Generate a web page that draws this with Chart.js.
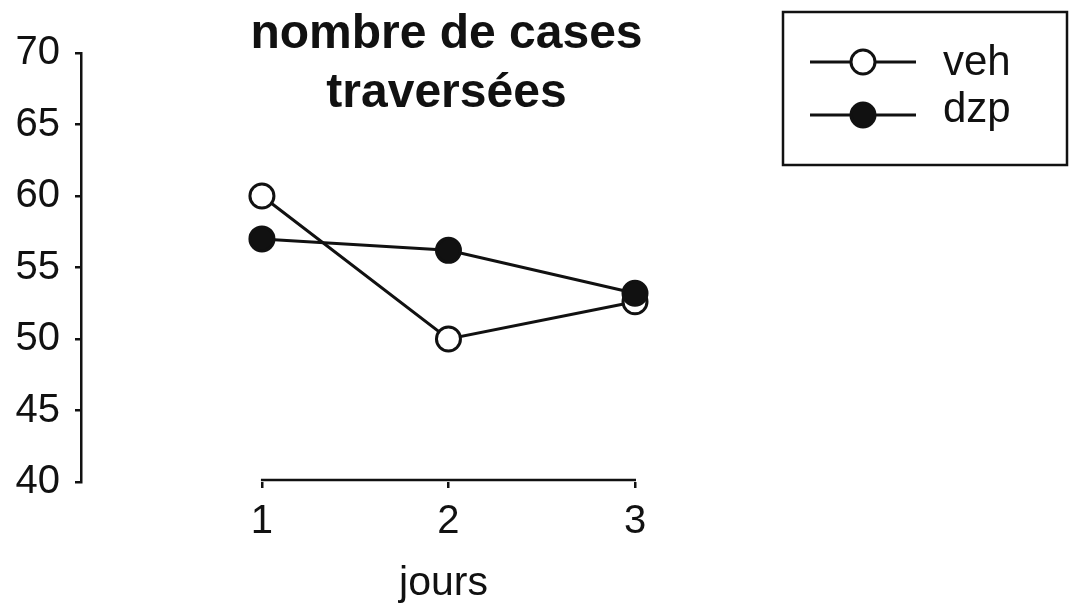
<!DOCTYPE html>
<html>
<head>
<meta charset="utf-8">
<script src="https://cdn.jsdelivr.net/npm/chart.js@4"></script>
<style>
  html, body { margin: 0; padding: 0; background: #fff; }
  #wrap { width: 1073px; height: 613px; }
</style>
</head>
<body>
<div id="wrap"><canvas id="c" width="1073" height="613"></canvas></div>
<script>
// Mean number of squares crossed per day, two treatment groups
const days = [1, 2, 3];
const veh = [60, 50, 52.6];
const dzp = [57, 56.2, 53.2];
const yTicks = [40, 45, 50, 55, 60, 65, 70];
const titleLines = ['nombre de cases', 'traversées'];
const xTitle = 'jours';
const seriesNames = ['veh', 'dzp'];

const INK = '#111';
const FONT = '"Liberation Sans", Arial, Helvetica, sans-serif';

const toPoints = vals => days.map((d, i) => ({ x: d, y: vals[i] }));

// Title, axis title, legend box and the shortened x axis line
const extras = {
  id: 'extras',
  beforeDatasetsDraw(chart) {
    const { ctx, chartArea } = chart;
    const xs = chart.scales.x;
    ctx.save();
    ctx.strokeStyle = INK;
    ctx.lineWidth = 2.5;
    ctx.beginPath();
    ctx.moveTo(xs.getPixelForValue(days[0]) - 1, chartArea.bottom - 2);
    ctx.lineTo(xs.getPixelForValue(days[days.length - 1]) + 1, chartArea.bottom - 2);
    ctx.stroke();
    ctx.restore();
  },
  afterDraw(chart) {
    const { ctx } = chart;
    const xs = chart.scales.x;
    const cx = (xs.getPixelForValue(days[0]) + xs.getPixelForValue(days[days.length - 1])) / 2 - 2;
    ctx.save();
    ctx.fillStyle = INK;
    ctx.textAlign = 'center';
    ctx.textBaseline = 'alphabetic';
    ctx.font = 'bold 48px ' + FONT;
    ctx.fillText(titleLines[0], cx, 48);
    ctx.fillText(titleLines[1], cx, 107);
    ctx.font = '41px ' + FONT;
    ctx.fillText(xTitle, cx - 3, 595);

    // legend
    ctx.strokeStyle = INK;
    ctx.lineWidth = 2.5;
    ctx.strokeRect(783, 12, 284, 153);
    const rows = [{ y: 62, base: 75 }, { y: 115, base: 122 }];
    chart.data.datasets.forEach((ds, i) => {
      const r = rows[i];
      ctx.lineWidth = 3;
      ctx.strokeStyle = ds.borderColor;
      ctx.beginPath();
      ctx.moveTo(810, r.y);
      ctx.lineTo(916, r.y);
      ctx.stroke();
      ctx.beginPath();
      ctx.arc(863, r.y, 12, 0, Math.PI * 2);
      ctx.fillStyle = ds.pointBackgroundColor;
      ctx.fill();
      ctx.stroke();
      ctx.fillStyle = INK;
      ctx.textAlign = 'left';
      ctx.font = '42px ' + FONT;
      ctx.fillText(seriesNames[i], 943, r.base);
    });
    ctx.restore();
  }
};

const seriesStyle = fill => ({
  borderColor: INK,
  borderWidth: 3,
  pointRadius: 12,
  pointBorderWidth: 3,
  pointBackgroundColor: fill,
  pointBorderColor: INK,
  tension: 0,
  clip: false
});

new Chart(document.getElementById('c'), {
  type: 'line',
  data: {
    datasets: [
      Object.assign({ label: seriesNames[0], data: toPoints(veh), order: 1 }, seriesStyle('#fff')),
      Object.assign({ label: seriesNames[1], data: toPoints(dzp), order: 0 }, seriesStyle(INK))
    ]
  },
  options: {
    responsive: false,
    animation: false,
    devicePixelRatio: 1,
    layout: { padding: { top: 53, right: 438, bottom: 0, left: 0 } },
    plugins: {
      legend: { display: false },
      title: { display: false },
      tooltip: { enabled: false }
    },
    scales: {
      x: {
        type: 'linear',
        min: 0.03,
        max: 3,
        afterBuildTicks: s => { s.ticks = days.map(v => ({ value: v })); },
        afterFit: s => { s.height = 131; },
        border: { display: false },
        grid: { drawOnChartArea: false, drawTicks: true, tickLength: 6, color: INK, lineWidth: 2.5 },
        ticks: {
          color: INK,
          font: { family: FONT, size: 40 },
          padding: 10,
          autoSkip: false,
          maxRotation: 0,
          callback: v => String(v)
        }
      },
      y: {
        min: yTicks[0],
        max: yTicks[yTicks.length - 1],
        afterBuildTicks: s => { s.ticks = yTicks.map(v => ({ value: v })); },
        afterFit: s => { s.width = 81; },
        border: { display: true, color: INK, width: 2.5 },
        grid: { drawOnChartArea: false, drawTicks: true, tickLength: 6, color: INK, lineWidth: 2.5 },
        ticks: {
          color: INK,
          font: { family: FONT, size: 40 },
          padding: 15,
          callback: v => String(v)
        }
      }
    }
  },
  plugins: [extras]
});
</script>
</body>
</html>
